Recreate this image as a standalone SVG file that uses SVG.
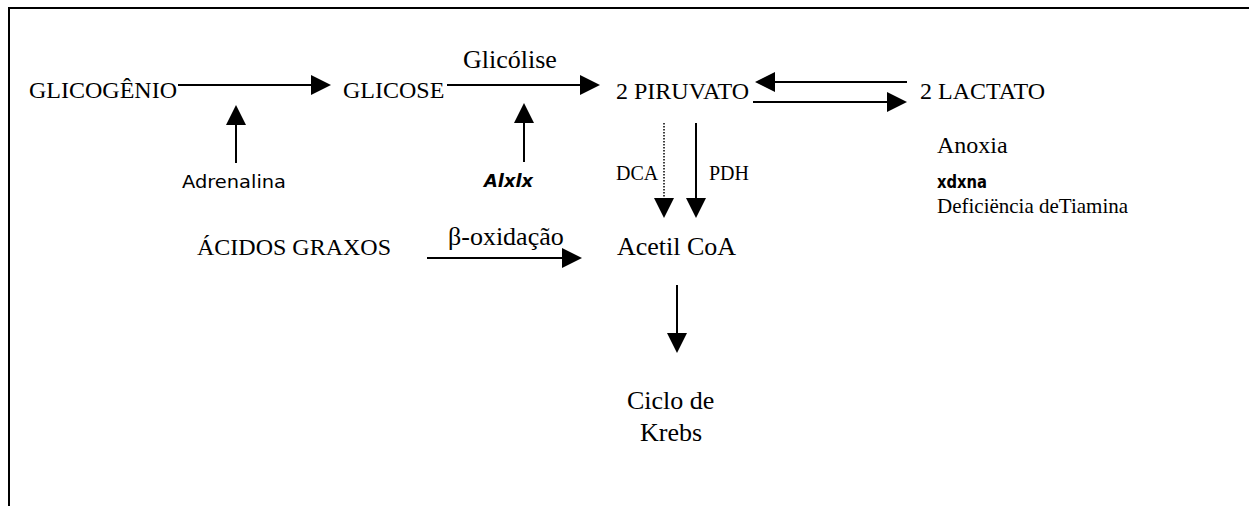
<svg xmlns="http://www.w3.org/2000/svg" width="1249" height="506" viewBox="0 0 1249 506">
  <style>
    .t { font-family: "Liberation Serif", "Times New Roman", serif; fill: #000; }
    .c { font-family: "DejaVu Sans", "Open Sans", sans-serif; fill: #000; }
    .ln { stroke: #000; stroke-width: 2; fill: none; }
    .dot { stroke: #000; stroke-width: 1.5; stroke-dasharray: 1.5 1.5; fill: none; }
    .frame { stroke: #000; stroke-width: 2; fill: none; }
  </style>
  <defs>
    <marker id="ah" markerUnits="userSpaceOnUse" markerWidth="20" markerHeight="20" refX="10" refY="10" orient="auto" viewBox="0 0 20 20">
      <path d="M0,0 L20,10 L0,20 z" fill="#000"/>
    </marker>
  </defs>
  <rect x="0" y="0" width="1249" height="506" fill="#fff"/>
  <path class="frame" d="M9,506 L9,8 L1249,8"/>

  <g id="connectors">
    <line class="ln" x1="178" y1="85" x2="321" y2="85" marker-end="url(#ah)"/>
    <line class="ln" x1="447" y1="85" x2="590" y2="85" marker-end="url(#ah)"/>
    <line class="ln" x1="236" y1="163" x2="236" y2="115" marker-end="url(#ah)"/>
    <line class="ln" x1="524" y1="162" x2="524" y2="113" marker-end="url(#ah)"/>
    <line class="dot" x1="664" y1="123" x2="664" y2="208" marker-end="url(#ah)"/>
    <line class="ln" x1="696" y1="123" x2="696" y2="208" marker-end="url(#ah)"/>
    <line class="ln" x1="907" y1="82" x2="765" y2="82" marker-end="url(#ah)"/>
    <line class="ln" x1="753" y1="102" x2="897" y2="102" marker-end="url(#ah)"/>
    <line class="ln" x1="427" y1="258" x2="572" y2="258" marker-end="url(#ah)"/>
    <line class="ln" x1="677" y1="285" x2="677" y2="343" marker-end="url(#ah)"/>
  </g>

  <g id="glicogenio"><text class="t" x="29" y="98" font-size="24">GLICOGÊNIO</text></g>
  <g id="glicose"><text class="t" x="343" y="98" font-size="24">GLICOSE</text></g>
  <g id="glicolise"><text class="t" x="463" y="68" font-size="26">Glicólise</text></g>
  <g id="piruvato"><text class="t" x="616" y="99" font-size="24">2 PIRUVATO</text></g>
  <g id="lactato"><text class="t" x="920" y="99" font-size="24">2 LACTATO</text></g>
  <g id="adrenalina"><text class="c" x="182" y="188" font-size="18" textLength="104" lengthAdjust="spacingAndGlyphs">Adrenalina</text></g>
  <g id="alxlx"><text class="c" x="484" y="187" font-size="18" font-style="italic" font-weight="bold" textLength="49" lengthAdjust="spacingAndGlyphs">Alxlx</text></g>
  <g id="dca"><text class="t" x="616" y="180" font-size="20">DCA</text></g>
  <g id="pdh"><text class="t" x="709" y="180" font-size="20">PDH</text></g>
  <g id="anoxia"><text class="t" x="937" y="153" font-size="24">Anoxia</text></g>
  <g id="xdxna"><text class="c" x="937" y="188" font-size="18" font-weight="bold" textLength="50" lengthAdjust="spacingAndGlyphs">xdxna</text></g>
  <g id="tiamina"><text class="t" x="937" y="213" font-size="21">Deficiëncia deTiamina</text></g>
  <g id="acidos"><text class="t" x="197" y="255" font-size="24">ÁCIDOS GRAXOS</text></g>
  <g id="betaox"><text class="t" x="448" y="245" font-size="26">β-oxidação</text></g>
  <g id="acetil"><text class="t" x="617" y="255" font-size="26">Acetil CoA</text></g>
  <g id="krebs">
    <text class="t" x="627" y="409" font-size="26">Ciclo de</text>
    <text class="t" x="640" y="441" font-size="26">Krebs</text>
  </g>
</svg>
